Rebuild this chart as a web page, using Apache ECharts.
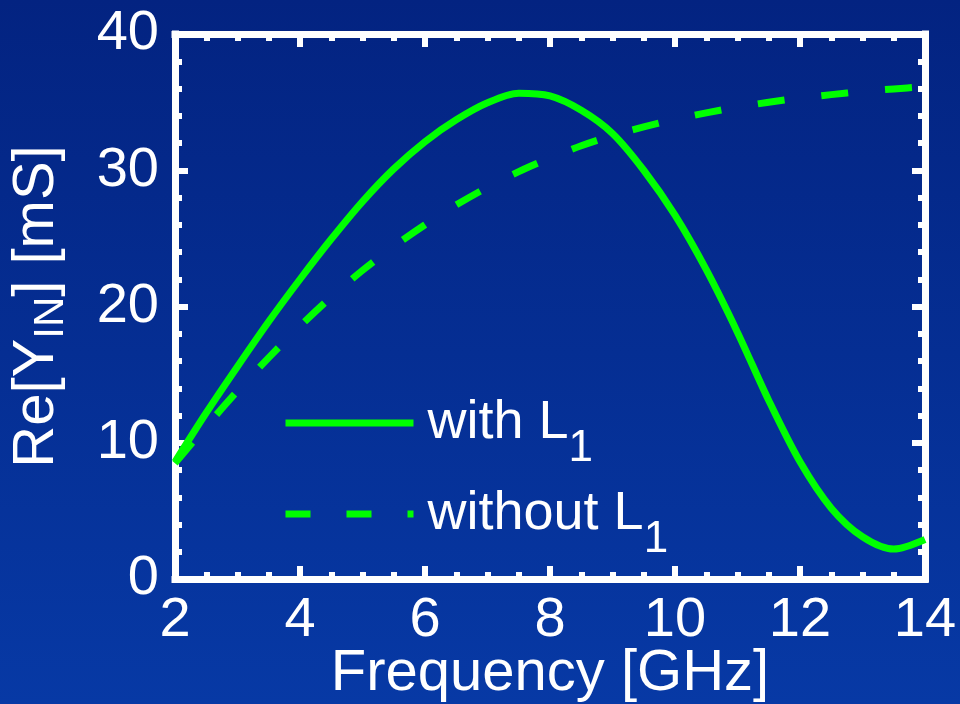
<!DOCTYPE html>
<html>
<head>
<meta charset="utf-8">
<script src="https://cdn.jsdelivr.net/npm/echarts@6/dist/echarts.min.js"></script>
<style>
  html, body { margin: 0; padding: 0; }
  #chart {
    width: 960px;
    height: 704px;
    background: linear-gradient(to bottom, #032381 0%, #0739a5 100%);
  }
</style>
</head>
<body>
<div id="chart"></div>
<script>
// Frequency sweep (GHz)
const frequency = [2.0, 2.5, 3.0, 3.5, 4.0, 4.5, 5.0, 5.5, 6.0, 6.5, 7.0, 7.5, 8.0,
                   8.5, 9.0, 9.5, 10.0, 10.5, 11.0, 11.5, 12.0, 12.5, 13.0, 13.5, 14.0];
// Re[Y_IN] in mS, input stage with the series inductor L1
const withL1 = [8.6, 12.2, 15.6, 18.9, 22.0, 24.95, 27.7, 30.1, 32.1, 33.7, 34.95, 35.65, 35.45,
                34.4, 32.7, 30.0, 26.7, 22.7, 18.1, 13.1, 8.6, 5.2, 3.1, 2.2, 2.9];
// Re[Y_IN] in mS, same stage without L1
const withoutL1 = [8.5, 11.2, 13.8, 16.25, 18.55, 20.7, 22.65, 24.4, 26.0, 27.45, 28.75, 29.9, 30.9,
                   31.8, 32.55, 33.18, 33.73, 34.21, 34.63, 34.99, 35.3, 35.55, 35.78, 35.97, 36.13];
// Tick positions
const xTickValues = [2, 4, 6, 8, 10, 12, 14];
const yTickValues = [0, 10, 20, 30, 40];

const FONT = "'Liberation Sans', Arial, Helvetica, sans-serif";
const WHITE = '#ffffff';
const GREEN = '#00ff00';

function pairs(xs, ys) { return xs.map((x, i) => [x, ys[i]]); }

// Shared frame styling: thick white box with inward major + minor ticks
function frame(extra) {
  return Object.assign({
    type: 'value',
    axisLine: { show: true, onZero: false, lineStyle: { color: WHITE, width: 7, cap: 'square' } },
    axisTick: { show: true, inside: true, length: 13, lineStyle: { color: WHITE, width: 6 } },
    splitLine: { show: false },
    minorSplitLine: { show: false },
    axisPointer: { show: false }
  }, extra);
}

const xMin = xTickValues[0], xMax = xTickValues[xTickValues.length - 1];
const xStep = xTickValues[1] - xTickValues[0];
const yMin = yTickValues[0], yMax = yTickValues[yTickValues.length - 1];
const yStep = yTickValues[1] - yTickValues[0];

const tickLabel = { color: WHITE, fontSize: 56, fontFamily: FONT };
const xMinor = { show: true, splitNumber: 4, length: 7, lineStyle: { color: WHITE, width: 6 } };
const yMinor = { show: true, splitNumber: 5, length: 7, lineStyle: { color: WHITE, width: 6 } };

const legendRich = {
  m: { color: WHITE, fontSize: 54, fontFamily: FONT, lineHeight: 54, padding: [0, 0, 0, 9] },
  s: { color: WHITE, fontSize: 44, fontFamily: FONT, lineHeight: 44, padding: [52, 0, 0, 0] }
};

function legendFor(name, label, top, dash) {
  return {
    data: [name],
    left: 282,
    top: top,
    padding: 0,
    orient: 'vertical',
    itemWidth: 128,
    itemHeight: 7,
    selectedMode: false,
    itemStyle: { opacity: 0 },
    lineStyle: { width: 7, type: dash },
    formatter: () => label,
    textStyle: { color: WHITE, fontFamily: FONT, rich: legendRich }
  };
}

const chart = echarts.init(document.getElementById('chart'), null, { renderer: 'canvas' });

chart.setOption({
  animation: false,
  backgroundColor: 'transparent',
  grid: { left: 175, right: 35, top: 34, bottom: 125, containLabel: false, outerBoundsMode: 'none' },
  xAxis: [
    frame({
      position: 'bottom', min: xMin, max: xMax, interval: xStep,
      minorTick: xMinor,
      axisLabel: Object.assign({ margin: 14 }, tickLabel),
      name: 'Frequency [GHz]',
      nameLocation: 'middle',
      nameGap: 66,
      nameMoveOverlap: false,
      nameTextStyle: { color: WHITE, fontSize: 58, fontFamily: FONT, lineHeight: 58 }
    }),
    frame({
      position: 'top', min: xMin, max: xMax, interval: xStep,
      minorTick: xMinor,
      axisLabel: { show: false }
    })
  ],
  yAxis: [
    frame({
      position: 'left', min: yMin, max: yMax, interval: yStep,
      minorTick: yMinor,
      axisLabel: Object.assign({ margin: 16 }, tickLabel),
      name: '{m|Re[Y}{s|IN}{m|] [mS]}',
      nameLocation: 'middle',
      nameRotate: 90,
      nameGap: 109,
      nameTextStyle: {
        color: WHITE, fontFamily: FONT,
        rich: {
          m: { color: WHITE, fontSize: 58, fontFamily: FONT, lineHeight: 58 },
          s: { color: WHITE, fontSize: 42, fontFamily: FONT, lineHeight: 42, padding: [28, 0, 0, 0] }
        }
      }
    }),
    frame({
      position: 'right', min: yMin, max: yMax, interval: yStep,
      minorTick: yMinor,
      axisLabel: { show: false }
    })
  ],
  legend: [
    legendFor('with L1', '{m|with L}{s|1}', 375, 'solid'),
    legendFor('without L1', '{m|without L}{s|1}', 466, [25, 36])
  ],
  series: [
    {
      name: 'with L1',
      type: 'line',
      xAxisIndex: 0, yAxisIndex: 0,
      data: pairs(frequency, withL1),
      smooth: 0.3,
      symbol: 'none',
      clip: true,
      lineStyle: { color: GREEN, width: 7 },
      itemStyle: { color: GREEN },
      z: 3
    },
    {
      name: 'without L1',
      type: 'line',
      xAxisIndex: 0, yAxisIndex: 0,
      data: pairs(frequency, withoutL1),
      smooth: 0.3,
      symbol: 'none',
      clip: true,
      lineStyle: { color: GREEN, width: 7, type: [27, 37], cap: 'butt' },
      itemStyle: { color: GREEN },
      z: 2
    }
  ]
});
</script>
</body>
</html>
